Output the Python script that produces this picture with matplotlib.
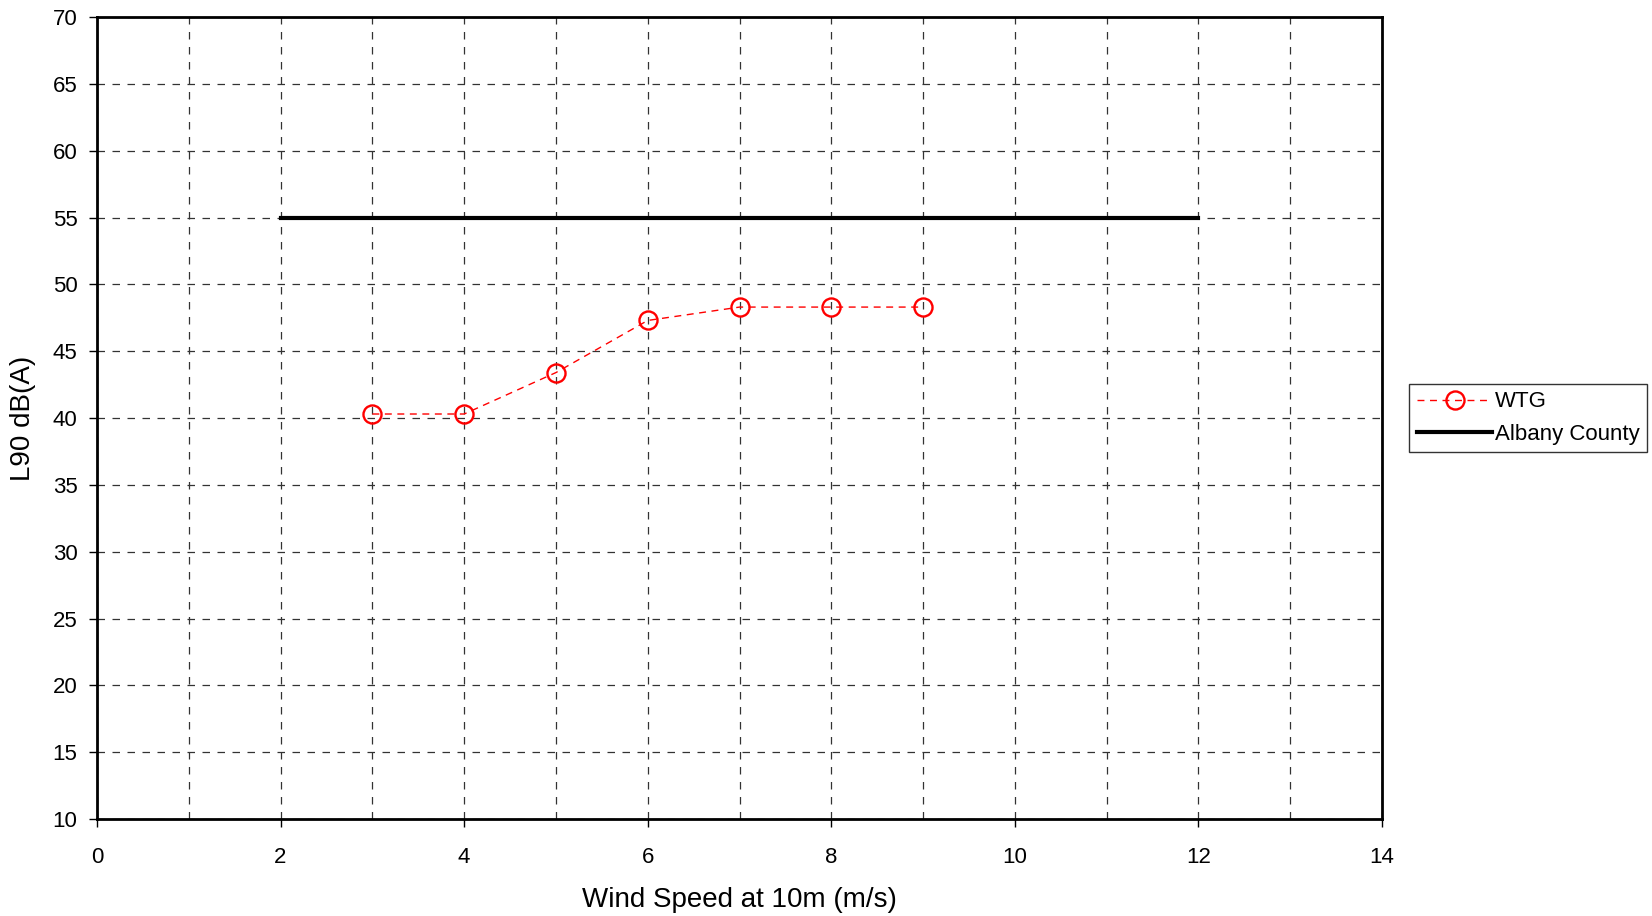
import matplotlib.pyplot as plt
from matplotlib.ticker import MultipleLocator

plt.rcParams['font.family'] = ['Liberation Sans', 'DejaVu Sans']

# datos
vel_wtg = [3, 4, 5, 6, 7, 8, 9]
l90_wtg = [40.3, 40.3, 43.4, 47.3, 48.3, 48.3, 48.3]
vel_albany = [2, 12]
l90_albany = [55, 55]

fig = plt.figure(figsize=(16.52, 9.16), dpi=100)
ax = fig.add_axes([0.0587, 0.1059, 0.7779, 0.8755])

ax.plot(vel_wtg, l90_wtg, linestyle=(0, (5, 4)), color='red', linewidth=1,
        marker='o', markersize=13, markerfacecolor='none', markeredgecolor='red',
        markeredgewidth=1.7, label='WTG', zorder=3)
ax.plot(vel_albany, l90_albany, '-k', linewidth=3, label='Albany County', zorder=3)

ax.set_xlim(0, 14)
ax.set_ylim(10, 70)
ax.xaxis.set_major_locator(MultipleLocator(2))
ax.xaxis.set_minor_locator(MultipleLocator(1))
ax.yaxis.set_major_locator(MultipleLocator(5))

ax.grid(True, which='both', axis='x', color='#333333', linestyle=(0, (6, 6)), linewidth=0.9)
ax.grid(True, which='major', axis='y', color='#333333', linestyle=(0, (6, 6)), linewidth=0.9)

ax.tick_params(axis='both', which='major', direction='out', length=6, width=1,
               labelsize=16)
ax.tick_params(axis='x', which='major', pad=14)
ax.tick_params(axis='y', which='major', pad=8)
ax.tick_params(axis='x', which='minor', length=0)
for s in ax.spines.values():
    s.set_linewidth(2)

ax.set_xlabel('Wind Speed at 10m (m/s)', fontsize=20, labelpad=14)
ax.set_ylabel('L90 dB(A)', fontsize=20, labelpad=12)

leg = ax.legend(loc='center left', bbox_to_anchor=(1.021, 0.5), fontsize=16,
                frameon=True, fancybox=False, edgecolor='black', handlelength=3.4,
                handletextpad=0.1, borderpad=0.35, labelspacing=0.5, borderaxespad=0)
leg.get_frame().set_linewidth(1)

plt.savefig('out.png', dpi=100)
